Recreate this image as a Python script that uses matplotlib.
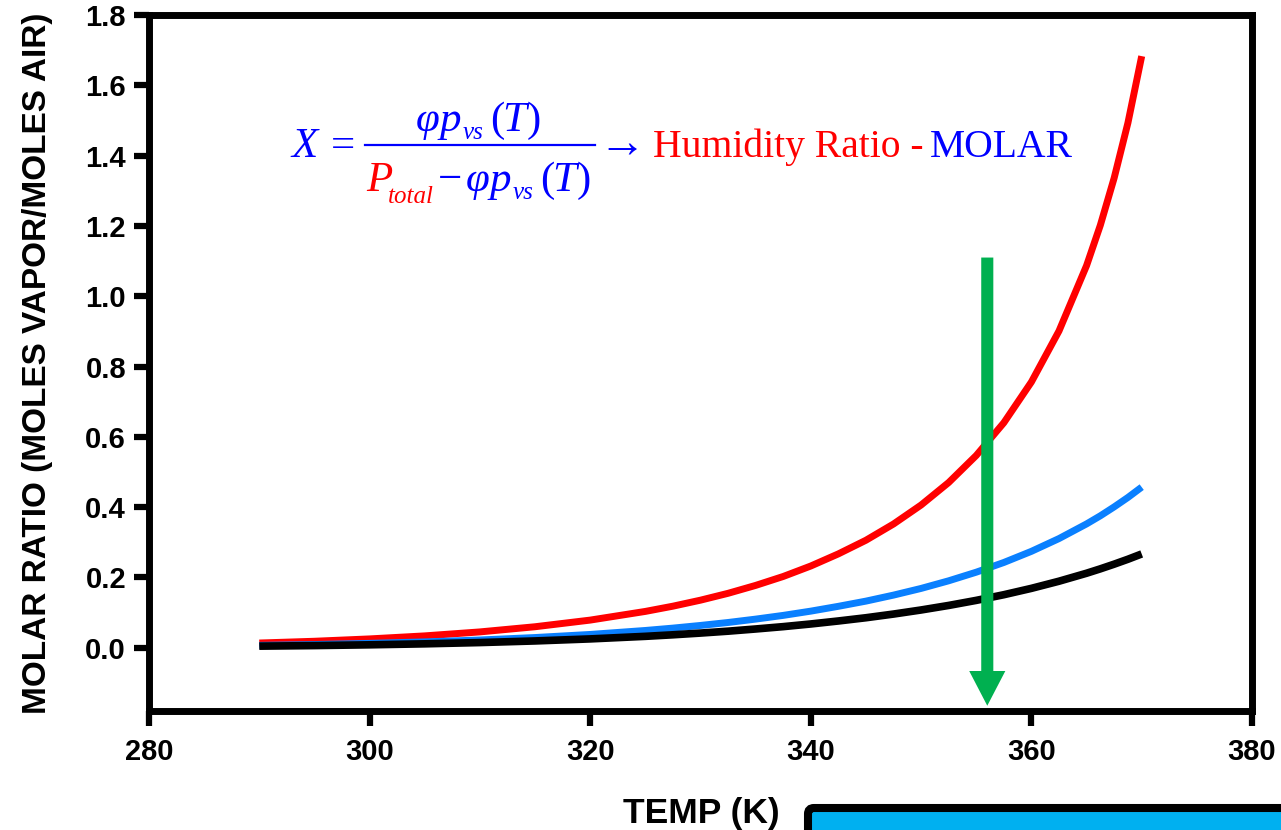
import matplotlib
matplotlib.use('Agg')
import matplotlib.pyplot as plt
from matplotlib.lines import Line2D
from matplotlib.patches import FancyBboxPatch
from matplotlib.transforms import IdentityTransform

# ---------------- data ----------------
temps = [290, 295, 300, 305, 310, 315, 320, 325, 327.5, 330, 332.5, 335, 337.5,
         340, 342.5, 345, 347.5, 350, 352.5, 355, 357.5, 360, 362.5, 365,
         366.25, 367.5, 368.75, 370]
red_vals = [0.0134, 0.0184, 0.0251, 0.0337, 0.0450, 0.0597, 0.0786, 0.1033,
            0.1182, 0.1353, 0.1548, 0.1773, 0.2027, 0.2325, 0.267, 0.3058,
            0.352, 0.406, 0.470, 0.547, 0.640, 0.756, 0.901, 1.087, 1.202,
            1.336, 1.493, 1.683]
blue_vals = [0.0067, 0.0091, 0.0124, 0.0166, 0.0220, 0.0290, 0.0378, 0.0491,
             0.0558, 0.0634, 0.0718, 0.0814, 0.0920, 0.1041, 0.1178, 0.1326,
             0.1497, 0.1687, 0.1904, 0.2149, 0.2425, 0.2742, 0.3105, 0.3522,
             0.3753, 0.4006, 0.4275, 0.4569]
black_vals = [0.0045, 0.0061, 0.0083, 0.0111, 0.0147, 0.0193, 0.0251, 0.0324,
              0.0368, 0.0417, 0.0471, 0.0533, 0.0600, 0.0676, 0.0761, 0.0853,
              0.0958, 0.1074, 0.1203, 0.1347, 0.1508, 0.1689, 0.1892, 0.2119,
              0.2244, 0.2377, 0.2517, 0.2668]
x_ticks = [280, 300, 320, 340, 360, 380]
y_ticks = [0.0, 0.2, 0.4, 0.6, 0.8, 1.0, 1.2, 1.4, 1.6, 1.8]
arrow_temp = 356
arrow_from = 1.11
arrow_to = -0.165

x_label = 'TEMP (K)'
y_label = 'MOLAR RATIO (MOLES VAPOR/MOLES AIR)'

# ---------------- style ----------------
plt.rcParams['font.family'] = ['Liberation Sans', 'DejaVu Sans']

W, H = 1281, 830
fig = plt.figure(figsize=(W / 100, H / 100), dpi=100)
ax = fig.add_axes([149 / W, 119 / H, (1252 - 149) / W, (711 - 15) / H])

ax.plot(temps, red_vals, color='#FF0000', lw=5.0, solid_capstyle='butt',
        solid_joinstyle='round', zorder=3)
ax.plot(temps, blue_vals, color='#0A80FF', lw=5.0, solid_capstyle='butt',
        solid_joinstyle='round', zorder=4)
ax.plot(temps, black_vals, color='#000000', lw=5.5, solid_capstyle='butt',
        solid_joinstyle='round', zorder=5)

ax.annotate('', xy=(arrow_temp, arrow_to), xytext=(arrow_temp, arrow_from),
            arrowprops=dict(arrowstyle='simple,head_length=2.5,head_width=2.6,tail_width=0.87',
                            mutation_scale=10, color='#00B050', lw=0,
                            shrinkA=0, shrinkB=0),
            zorder=6)

ax.set_xlim(280, 380)
ax.set_ylim(-0.18, 1.8)
ax.set_xticks(x_ticks)
ax.set_xticklabels([str(v) for v in x_ticks])
ax.set_yticks(y_ticks)
ax.set_yticklabels(['%.1f' % v for v in y_ticks])
for s in ax.spines.values():
    s.set_linewidth(5)
ax.tick_params(axis='both', which='major', length=10.5, width=4.5,
               labelsize=21, direction='out')
ax.tick_params(axis='x', pad=9)
ax.tick_params(axis='y', pad=6)
for lab in ax.get_xticklabels() + ax.get_yticklabels():
    lab.set_fontweight('bold')

ax.set_ylabel(y_label, fontsize=24, fontweight='bold')
ax.yaxis.set_label_coords(-0.087, 0.5)

ID = IdentityTransform()


def ftext(x, y, s, **kw):
    return fig.text(x, H - y, s, transform=ID, **kw)


ftext(701, 823, x_label, fontsize=25.5, fontweight='bold', ha='center', va='baseline')

# ---------------- formula ----------------
BLUE = '#0000FF'
RED = '#FF0000'
SERIF = 'Liberation Serif'
BIG = 31
SUB = 18


def piece(x, y, s, color, size=BIG, italic=True):
    ftext(x, y, s, color=color, fontsize=size, family=SERIF,
          style='italic' if italic else 'normal', fontweight='normal',
          ha='left', va='baseline')


# left side
piece(291, 157, 'X', BLUE)
piece(331, 157, '=', BLUE, italic=False)
fig.add_artist(Line2D([365, 595], [H - 145, H - 145], transform=ID, color=BLUE, lw=1.6))
# numerator
piece(416, 131, '\u03c6', BLUE)
piece(440, 131, 'p', BLUE)
piece(463, 139, 'vs', BLUE, size=SUB)
piece(490, 131, '(', BLUE, italic=False)
piece(502, 131, 'T', BLUE)
piece(527, 131, ')', BLUE, italic=False)
# denominator
piece(366, 191, 'P', RED)
piece(388, 203, 'total', RED, size=SUB)
piece(438, 191, '\u2212', BLUE, italic=False)
piece(466, 191, '\u03c6', BLUE)
piece(490, 191, 'p', BLUE)
piece(513, 199, 'vs', BLUE, size=SUB)
piece(540, 191, '(', BLUE, italic=False)
piece(552, 191, 'T', BLUE)
piece(577, 191, ')', BLUE, italic=False)
# arrow and words
ftext(598, 157, '\u2192', color=BLUE, fontsize=34, family=[SERIF, 'DejaVu Serif'],
      fontweight='normal', ha='left', va='baseline')
ftext(653, 157, 'Humidity Ratio - ', color=RED, fontsize=28.5, fontweight='normal',
      family=SERIF, ha='left', va='baseline')
ftext(930, 157, 'MOLAR', color=BLUE, fontsize=28.5, fontweight='normal',
      family=SERIF, ha='left', va='baseline')

# ---------------- cyan box at bottom ----------------
box = FancyBboxPatch((808, -60), 600, 60 + (H - 808), boxstyle='round,pad=0,rounding_size=6',
                     transform=ID, facecolor='#00B0F0', edgecolor='black', lw=5.8)
fig.add_artist(box)

fig.savefig('out.png', dpi=100)
